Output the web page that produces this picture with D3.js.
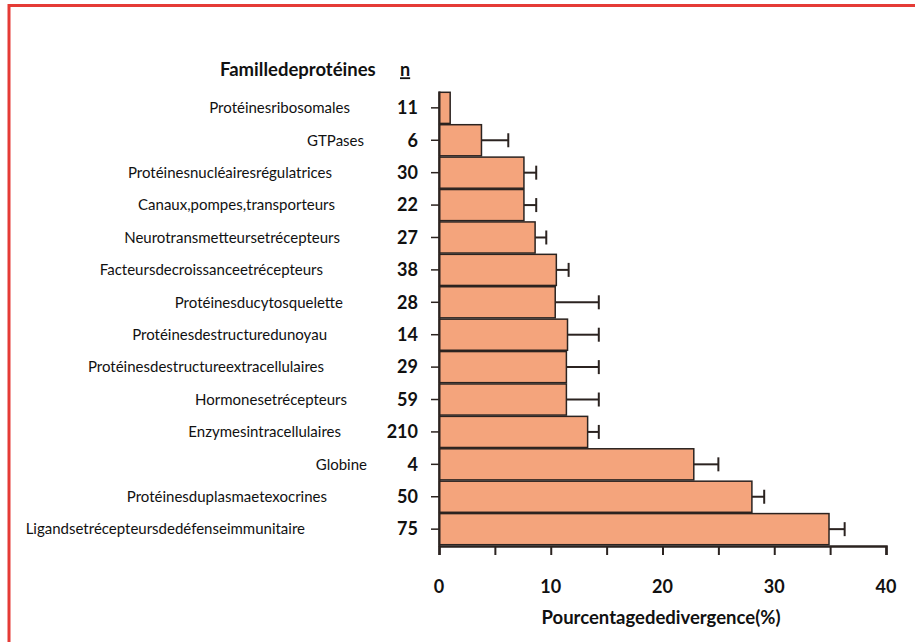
<!DOCTYPE html>
<html>
<head>
<meta charset="utf-8">
<script src="https://cdn.jsdelivr.net/npm/d3@7"></script>
<style>
  body { margin: 0; background: #fff; }
  svg text { font-family: Lato, "Open Sans", sans-serif; fill: #111; }
</style>
</head>
<body>
<svg id="chart" width="915" height="642"></svg>
<script>
// familles de protéines, de haut en bas
const families = [
    "Protéinesribosomales", "GTPases", "Protéinesnucléairesrégulatrices",
    "Canaux,pompes,transporteurs", "Neurotransmetteursetrécepteurs",
    "Facteursdecroissanceetrécepteurs", "Protéinesducytosquelette",
    "Protéinesdestructuredunoyau", "Protéinesdestructureextracellulaires",
    "Hormonesetrécepteurs", "Enzymesintracellulaires", "Globine",
    "Protéinesduplasmaetexocrines", "Ligandsetrécepteursdedéfenseimmunitaire"
];
const counts = [11, 6, 30, 22, 27, 38, 28, 14, 29, 59, 210, 4, 50, 75];
const divergence = [1.0, 3.8, 7.6, 7.6, 8.6, 10.5, 10.4, 11.5, 11.4, 11.4, 13.3, 22.8, 28.0, 34.9];
const errTop = [1.0, 6.2, 8.7, 8.7, 9.6, 11.6, 14.3, 14.3, 14.3, 14.3, 14.3, 25.0, 29.1, 36.3];
const xTicks = [0, 10, 20, 30, 40];

// small shifts of the family labels (the source figure is not aligned)
const labelShift = [10, 24, -8, -5, 0, -17, 3, -13, -16, 7, 1, 27, -13, -35];

const svg = d3.select("#chart");
const fill = "#f4a47c";
const ink = "#2b2320";

// red frame of the figure
svg.append("rect")
    .attr("x", 9).attr("y", 5.5)
    .attr("width", 930).attr("height", 660)
    .attr("fill", "none")
    .attr("stroke", "#e53b36")
    .attr("stroke-width", 3);

const x = d3.scaleLinear().domain([0, 40]).range([439, 886]);
const y = d3.scaleBand().domain(d3.range(families.length)).range([91, 546]).padding(0.04);

const rows = families.map((f, i) => ({ f, i, n: counts[i], v: divergence[i], e: errTop[i] }));

// error bars
const eb = svg.append("g").attr("stroke", ink).attr("stroke-width", 2);
rows.filter(d => d.e > d.v).forEach(d => {
    const cy = y(d.i) + y.bandwidth() / 2;
    eb.append("line").attr("x1", x(d.v)).attr("x2", x(d.e)).attr("y1", cy).attr("y2", cy);
    eb.append("line").attr("x1", x(d.e)).attr("x2", x(d.e)).attr("y1", cy - 7).attr("y2", cy + 7);
});

// bars
svg.append("g").selectAll("rect")
    .data(rows).enter()
    .append("rect")
    .attr("x", x(0))
    .attr("y", d => y(d.i))
    .attr("width", d => x(d.v) - x(0))
    .attr("height", y.bandwidth())
    .attr("fill", fill)
    .attr("stroke", ink)
    .attr("stroke-width", 1.5);

// x axis
const xAxis = svg.append("g")
    .attr("transform", "translate(0,546)")
    .call(d3.axisBottom(x).tickValues(d3.range(0, 41, 5)).tickSize(9).tickFormat(""));
xAxis.select(".domain").attr("stroke", ink).attr("stroke-width", 2.5);
xAxis.selectAll(".tick line").attr("stroke", ink).attr("stroke-width", 2);

svg.append("g").selectAll("text")
    .data(xTicks).enter()
    .append("text")
    .attr("x", d => x(d))
    .attr("y", 587)
    .attr("dy", "0.35em")
    .attr("text-anchor", "middle")
    .attr("font-size", 18)
    .attr("font-weight", "bold")
    .text(d => d);

svg.append("text")
    .attr("x", 661).attr("y", 618).attr("dy", "0.35em")
    .attr("text-anchor", "middle")
    .attr("font-size", 18.5)
    .attr("font-weight", "bold")
    .text("Pourcentagededivergence(%)");

// y axis
const yAxis = svg.append("g")
    .attr("transform", "translate(439,0)")
    .call(d3.axisLeft(y).tickSize(8).tickFormat("").tickSizeOuter(0));
yAxis.select(".domain").attr("stroke", ink).attr("stroke-width", 2);
yAxis.selectAll(".tick line").attr("stroke", ink).attr("stroke-width", 1.5);

// n column
svg.append("g").selectAll("text")
    .data(rows).enter()
    .append("text")
    .attr("x", 418)
    .attr("y", d => y(d.i) + y.bandwidth() / 2)
    .attr("dy", "0.35em")
    .attr("text-anchor", "end")
    .attr("font-size", 18)
    .attr("font-weight", "bold")
    .text(d => d.n);

// family names
svg.append("g").selectAll("text")
    .data(rows).enter()
    .append("text")
    .attr("x", d => 340 + labelShift[d.i])
    .attr("y", d => y(d.i) + y.bandwidth() / 2)
    .attr("dy", "0.35em")
    .attr("text-anchor", "end")
    .attr("font-size", 15)
    .text(d => d.f);

// headers
svg.append("text")
    .attr("x", 220).attr("y", 70).attr("dy", "0.35em")
    .attr("font-size", 18.5)
    .attr("font-weight", "bold")
    .text("Familledeprotéines");

svg.append("text")
    .attr("x", 400).attr("y", 70).attr("dy", "0.35em")
    .attr("font-size", 18)
    .attr("font-weight", "bold")
    .attr("text-decoration", "underline")
    .text("n");
</script>
</body>
</html>
